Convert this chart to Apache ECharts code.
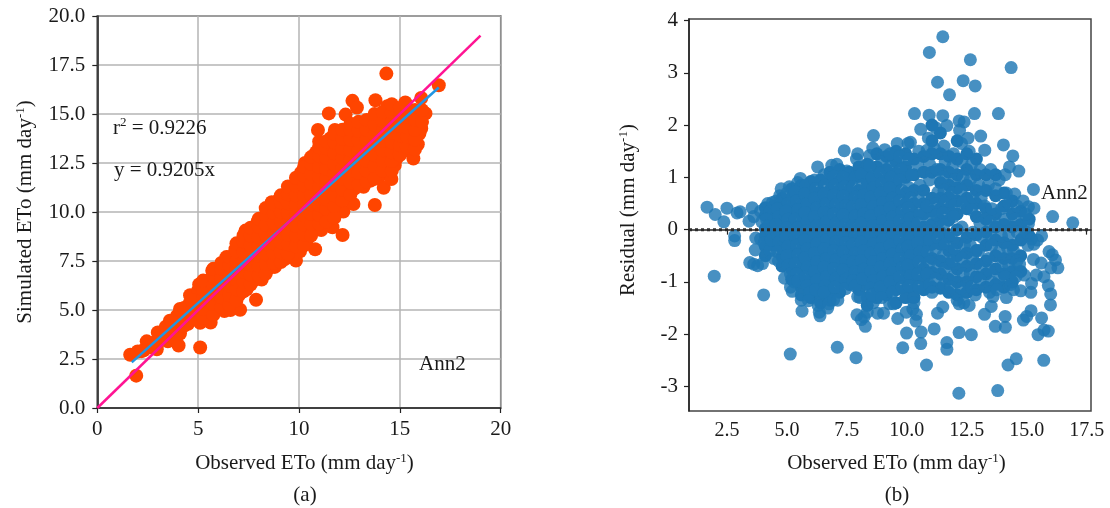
<!DOCTYPE html>
<html><head><meta charset="utf-8">
<style>html,body{margin:0;padding:0;background:#fff}#c{width:1110px;height:508px}</style>
<script src="https://cdn.jsdelivr.net/npm/echarts@6/dist/echarts.min.js"></script>
</head><body><div id="c"></div>
<script>
const ticksBX=[2.5,5,7.5,10,12.5,15,17.5];
const ticksBY=[-3,-2,-1,0,1,2,3,4];
const oneToOneX=[0,19], oneToOneY=[0,19];
const fitX=[1.71,16.93], fitY=[2.33,16.35];
const zeroX=[0.917,17.68], zeroY=[0,0];
const pointsA=[
[1.63,2.72],[1.93,1.65],[2.0,2.88],[2.3,2.95],[2.45,3.4],[2.6,3.1],[2.75,3.3],[2.95,3.0],[3.0,3.85],[3.2,3.5],[3.25,3.9],[3.5,3.4],[3.55,3.95],[3.6,4.45],[3.8,3.6],[3.85,4.2],[3.95,4.7],[4.03,3.19],[4.1,3.8],[4.1,5.05],[4.2,4.4],[4.4,4.85],[4.5,4.3],[4.55,5.3],[4.6,5.75],[4.8,4.55],[4.85,5.0],[4.9,5.5],[5.0,6.0],[5.1,3.09],[5.1,4.35],[5.15,4.8],[5.2,5.3],[5.05,6.3],[5.35,5.8],[5.4,6.4],[5.5,4.7],[5.62,4.36],[5.55,5.15],[5.6,5.6],[5.6,6.05],[5.65,6.6],[5.7,7.0],[5.9,5.0],[5.95,5.4],[5.95,5.9],[6.0,6.4],[6.05,6.85],[6.1,7.2],[6.3,4.95],[6.35,5.5],[6.3,6.0],[6.35,6.5],[6.4,7.0],[6.4,7.7],[6.6,5.0],[6.7,5.5],[6.7,6.0],[6.65,6.5],[6.7,7.1],[6.8,7.55],[6.85,8.1],[7.08,5.01],[7.05,5.8],[7.0,6.3],[7.1,6.8],[7.05,7.3],[7.1,7.8],[7.15,8.35],[7.35,9.05],[7.4,6.05],[7.45,6.55],[7.4,7.05],[7.45,7.55],[7.5,8.1],[7.5,8.6],[7.75,6.5],[7.87,5.52],[7.8,7.0],[7.85,7.5],[7.85,8.0],[7.8,8.55],[7.9,9.05],[7.95,9.5],[8.15,6.55],[8.1,7.1],[8.2,7.6],[8.15,8.1],[8.2,8.6],[8.15,9.1],[8.25,9.6],[8.55,7.15],[8.5,7.65],[8.55,8.15],[8.5,8.65],[8.55,9.2],[8.5,9.7],[8.55,10.1],[8.65,10.5],[8.8,7.2],[8.9,7.7],[8.9,8.25],[8.85,8.8],[8.95,9.3],[8.9,9.8],[8.95,10.3],[9.05,10.7],[9.3,7.6],[9.25,8.15],[9.3,8.7],[9.35,9.2],[9.3,9.7],[9.35,10.2],[9.3,10.7],[9.5,11.1],[9.6,8.0],[9.65,8.5],[9.7,9.05],[9.7,9.55],[9.65,10.05],[9.7,10.55],[9.75,11.0],[9.85,7.52],[9.9,11.45],[10.05,8.0],[10.05,8.6],[10.1,9.1],[10.05,9.6],[10.1,10.1],[10.05,10.6],[10.1,11.1],[10.05,11.6],[10.1,12.0],[10.3,12.5],[10.4,8.6],[10.45,9.15],[10.45,9.65],[10.4,10.15],[10.45,10.65],[10.45,11.2],[10.4,11.7],[10.5,12.2],[10.8,8.1],[10.8,9.5],[10.8,10.0],[10.85,10.5],[10.8,11.05],[10.8,11.55],[10.85,12.1],[10.75,12.65],[10.85,13.05],[10.94,14.18],[11.1,9.08],[11.2,9.8],[11.15,10.4],[11.2,10.9],[11.15,11.4],[11.2,11.95],[11.15,12.5],[11.2,13.0],[11.15,13.35],[11.48,15.03],[11.55,10.0],[11.55,10.6],[11.6,11.15],[11.55,11.7],[11.6,12.2],[11.55,12.75],[11.6,13.3],[11.55,13.75],[11.66,9.22],[11.78,14.18],[11.95,10.4],[11.95,10.9],[12.0,11.45],[11.95,12.0],[12.0,12.5],[11.95,13.0],[12.0,13.5],[12.0,14.0],[12.16,8.83],[12.2,10.02],[12.31,14.97],[12.35,10.75],[12.35,11.3],[12.4,11.85],[12.35,12.4],[12.4,12.95],[12.35,13.45],[12.4,14.0],[12.5,14.3],[12.65,15.67],[12.7,10.41],[12.75,11.2],[12.75,11.75],[12.8,12.3],[12.75,12.85],[12.8,13.4],[12.75,13.9],[12.8,14.4],[12.87,15.33],[13.2,11.29],[13.15,11.8],[13.15,12.35],[13.2,12.9],[13.15,13.45],[13.2,13.95],[13.15,14.5],[13.55,11.6],[13.55,12.1],[13.6,12.65],[13.55,13.2],[13.6,13.7],[13.55,14.2],[13.6,14.65],[13.76,10.36],[13.79,15.7],[13.95,11.75],[14.0,12.35],[13.95,12.9],[14.0,13.4],[13.95,13.95],[14.0,14.4],[13.95,14.9],[14.2,11.24],[14.33,17.06],[14.38,15.4],[14.35,12.2],[14.4,12.75],[14.35,13.3],[14.4,13.85],[14.35,14.4],[14.4,14.95],[14.58,11.68],[14.7,15.33],[14.75,12.4],[14.83,12.73],[14.8,13.2],[14.8,13.75],[14.85,14.3],[14.8,14.85],[15.15,13.1],[15.2,13.6],[15.15,14.15],[15.2,14.7],[15.15,15.1],[15.27,15.59],[15.5,13.4],[15.55,14.0],[15.5,14.55],[15.55,15.1],[15.67,12.73],[15.89,13.46],[15.85,14.4],[15.9,15.0],[15.97,14.0],[16.06,14.26],[16.06,15.82],[16.1,15.0],[16.27,15.03],[16.93,16.47]
];
const bandA=[
[2.2,[2.9]],[2.85,[3.35]],[3.4,[3.7,4.15]],[3.7,[3.9,4.4]],[4.3,[4.2,4.6,5.1]],[4.7,[4.5,5.0,5.5]],[5.25,[4.6,5.05,5.55,6.05,6.5]],[5.75,[4.75,5.3,5.8,6.3,6.75,7.1]],[6.15,[5.15,5.65,6.15,6.65,7.1,7.4]],[6.55,[5.25,5.75,6.25,6.75,7.3,7.7]],[6.9,[5.5,6.05,6.55,7.05,7.5,8.0,8.4]],[7.25,[5.95,6.45,6.95,7.45,7.95,8.5,8.8]],[7.6,[6.3,6.8,7.3,7.8,8.3,8.8,9.2]],[8,[6.75,7.25,7.75,8.25,8.75,9.25,9.65]],[8.35,[6.85,7.35,7.85,8.35,8.85,9.35,9.85,10.2]],[8.75,[7.4,7.9,8.4,8.9,9.45,9.95,10.4]],[9.1,[7.45,7.95,8.45,8.95,9.5,10,10.5,10.85]],[9.45,[7.85,8.35,8.85,9.45,9.95,10.45,10.9,11.3]],[9.85,[8.25,8.8,9.3,9.85,10.35,10.85,11.35,11.75]],[10.25,[8.3,8.85,9.35,9.85,10.35,10.85,11.35,11.85,12.3]],[10.6,[8.8,9.4,9.9,10.4,10.9,11.45,11.95,12.45,12.8]],[11,[9.4,9.85,10.35,10.85,11.3,11.8,12.3,12.85,13.3,13.6]],[11.35,[9.5,10.15,10.65,11.15,11.7,12.2,12.75,13.25,13.6]],[11.75,[9.7,10.3,10.85,11.4,11.95,12.45,13,13.55,14]],[12.15,[10.6,11.15,11.7,12.25,12.75,13.25,13.75,14.2]],[12.55,[10.9,11.5,12.1,12.65,13.15,13.7,14.2,14.5]],[12.95,[11.4,12,12.55,13.1,13.65,14.15,14.6]],[13.35,[11.55,12.1,12.6,13.15,13.65,14.2,14.7]],[13.75,[11.7,12.35,12.9,13.45,13.95,14.45,15]],[14.15,[12.1,12.6,13.15,13.65,14.15,14.65,15.1]],[14.6,[12.1,12.6,13.05,13.55,14.05,14.6,15.1,15.5]],[15,[12.9,13.4,13.9,14.4,14.9,15.3]],[15.35,[13.3,13.85,14.35,14.85,15.3]],[15.75,[13.2,13.7,14.2,14.7,15.2]],[16.1,[14.6,15.2]]
];
const pointsB=[
[1.67,.43],[2.01,.29],[2.5,.41],[2.37,.15],[2.92,.32],[3.05,.34],[2.82,-.12],[2.82,-.21],[1.97,-.89],[4.03,-1.25],[5.14,-2.38],[7.1,-2.25],[7.88,-2.45],[9.83,-2.26],[10.58,-2.18],[10.82,-2.59],[12.17,-3.13],[13.79,-3.08],[14.22,-2.59],[14.56,-2.47],[15.71,-2.5],[11.67,-2.16],[11.67,-2.29],[9.99,-1.98],[10.6,-1.96],[11.14,-1.9],[12.18,-1.97],[12.69,-2.01],[13.69,-1.85],[14.11,-1.87],[14.1,-1.66],[13.24,-1.62],[15.47,-2.01],[15.9,-1.94],[15.72,-1.92],[15.62,-1.69],[15.99,-1.44],[14.86,-1.73],[15,-1.66],[15.18,-1.55],[16,-1.23],[15.9,-1.07],[15.17,-1.2],[15.2,-1.03],[14.9,-.87],[15.4,-.87],[15.72,-.9],[16.3,-.73],[16.0,-.73],[16.2,-.58],[15.93,-.42],[16.07,-.48],[15.28,-.57],[15.6,-.64],[15.62,-.12],[16.92,.13],[16.08,.25],[15.28,.77],[15.3,.41],[15.07,.44],[15.07,.11],
[11.5,3.69],[10.94,3.39],[12.65,3.25],[14.35,3.1],[11.28,2.82],[12.35,2.85],[12.85,2.75],[11.78,2.58],[10.32,2.22],[10.93,2.19],[11.5,2.18],[12.82,2.22],[13.82,2.22],[12.18,2.08],[12.39,2.06],[11.67,1.99],[10.58,1.92],[13.08,1.79],[8.61,1.8],[14.03,1.62],[13.25,1.52],[14.42,1.41],[7.39,1.51],[6.28,1.2],[14.67,1.12],[14.28,1.2],[5.56,.98],[4.76,.78],
[3.55,.42],[3.62,.25],[3.42,.16],[3.7,-.16],[3.68,-.39],[3.45,-.63],[3.62,-.66],[3.78,-.69],[3.98,-.65],[3.9,.35],[3.95,.15],[3.9,-.18],[4.05,-.25],
[4.2,.5],[4.3,.35],[4.15,.2],[4.25,.08],[4.35,-.05],[4.3,-.4],[4.35,-.2],[4.45,-.55],[4.4,.52],
[4.55,.55],[4.6,.4],[4.65,.25],[4.55,.1],[4.6,-.1],[4.65,-.25],[4.6,-.42],[4.65,-.6],[4.7,.65],
[5,.7],[5.05,.5],[4.95,.35],[5.05,.2],[5,.03],[4.95,-.15],[5.05,-.32],[5,-.5],[5.05,-.68],[4.9,-.93],[5.15,-.85],[5.1,.82],[5.15,-1.1],
[5.45,.9],[5.35,.72],[5.4,.55],[5.45,.38],[5.35,.2],[5.45,.03],[5.35,-.14],[5.4,-.3],[5.45,-.48],[5.35,-.65],[5.4,-.85],[5.3,-1.0],[5.22,-1.18],[5.45,-.98],[5.6,-1.35],[5.63,-1.56],
[5.8,.85],[5.75,.68],[5.85,.5],[5.75,.33],[5.85,.16],[5.8,-.02],[5.75,-.2],[5.85,-.37],[5.75,-.54],[5.85,-.72],[5.78,-.9],[5.85,-1.07],[5.95,-1.2],[5.9,-1.36],
[6.15,.95],[6.2,.78],[6.15,.6],[6.25,.42],[6.15,.25],[6.25,.08],[6.15,-.1],[6.25,-.27],[6.15,-.45],[6.25,-.62],[6.15,-.8],[6.25,-.97],[6.2,-1.15],[6.3,-1.45],[6.35,-1.58],[6.38,-1.65],
[6.55,1.05],[6.6,.85],[6.55,.68],[6.65,.5],[6.55,.33],[6.65,.15],[6.55,-.02],[6.65,-.2],[6.55,-.37],[6.65,-.55],[6.55,-.72],[6.65,-.9],[6.6,-1.07],[6.55,-1.2],[6.7,-1.5],[6.75,-1.42],
[6.87,1.23],[7.08,1.25],[6.95,1.02],[7.0,.85],[6.95,.66],[7.05,.48],[6.95,.3],[7.05,.12],[6.95,-.05],[7.05,-.23],[6.95,-.4],[7.05,-.58],[6.95,-.75],[7.05,-.93],[7.0,-1.1],[6.95,-1.34],[7.12,-1.35],
[7.5,1.12],[7.35,1.0],[7.4,.82],[7.35,.64],[7.45,.46],[7.35,.28],[7.45,.1],[7.35,-.07],[7.45,-.25],[7.35,-.42],[7.45,-.6],[7.35,-.77],[7.45,-.95],[7.45,-1.13],
[7.9,1.35],[7.95,1.45],[7.85,1.0],[7.75,.82],[7.85,.62],[7.75,.44],[7.85,.26],[7.75,.08],[7.85,-.1],[7.75,-.28],[7.85,-.45],[7.75,-.62],[7.85,-.8],[7.75,-.98],[7.85,-1.08],[7.95,-1.28],[8.05,-1.3],[7.92,-1.63],[8.1,-1.72],
[8.1,1.06],[8.15,.85],[8.2,.66],[8.1,.48],[8.2,.3],[8.1,.12],[8.2,-.06],[8.1,-.24],[8.2,-.41],[8.1,-.59],[8.2,-.76],[8.15,-.94],[8.27,-1.85],[8.22,-1.67],[8.35,-1.58],
[8.45,1.42],[8.58,1.56],[8.45,1.22],[8.55,1.0],[8.6,.8],[8.5,.62],[8.6,.44],[8.5,.26],[8.6,.08],[8.5,-.1],[8.6,-.28],[8.5,-.45],[8.6,-.62],[8.5,-.8],[8.6,-.98],[8.5,-1.12],[8.6,-1.4],[8.55,-1.25],
[8.95,1.3],[8.9,1.08],[8.95,.88],[8.9,.7],[9,.52],[8.9,.34],[9,.16],[8.9,-.02],[9,-.2],[8.9,-.37],[9,-.55],[8.9,-.72],[9,-.9],[8.9,-1.1],[8.78,-1.6],[8.95,-1.3],[9.03,-1.6],
[9.08,1.53],[9.3,1.45],[9.3,1.2],[9.35,1.0],[9.3,.8],[9.4,.6],[9.3,.42],[9.4,.24],[9.3,.06],[9.4,-.12],[9.3,-.3],[9.4,-.47],[9.3,-.65],[9.4,-.82],[9.3,-1.0],[9.4,-1.2],[9.28,-1.42],[9.45,-1.42],[9.62,-1.7],
[9.6,1.65],[9.7,1.4],[9.75,1.15],[9.7,.95],[9.8,.75],[9.7,.55],[9.8,.35],[9.7,.17],[9.8,-.01],[9.7,-.2],[9.8,-.38],[9.7,-.55],[9.8,-.73],[9.7,-.9],[9.8,-1.1],[9.98,-1.58],
[10.05,1.65],[10.15,1.67],[10.1,1.35],[10.2,1.05],[10.1,.8],[10.15,.6],[10.05,.42],[10.15,.22],[10.05,.04],[10.15,-.15],[10.05,-.32],[10.15,-.5],[10.05,-.68],[10.15,-.88],[10.1,-1.08],[10.3,-1.4],[10.25,-1.52],[10.4,-1.62],[10.38,-1.75],
[10.5,1.5],[10.45,1.25],[10.55,.85],[10.5,.55],[10.55,.3],[10.45,.12],[10.55,-.07],[10.45,-.25],[10.55,-.43],[10.5,-.62],[10.45,-.85],[10.5,-1.1],
[10.9,1.75],[10.85,1.52],[10.95,1.25],[10.95,.95],[10.85,.45],[10.95,.2],[10.85,-.02],[10.95,-.2],[10.85,-.42],[10.95,-.62],[10.85,-.85],[10.95,-1.05],[11.05,-1.2],
[11.2,1.95],[11.15,1.55],[11.25,1.15],[11.3,.72],[11.2,.5],[11.25,.28],[11.3,-.15],[11.2,-.38],[11.3,-.7],[11.2,-.95],[11.28,-1.6],[11.5,-1.48],
[11.55,1.6],[11.6,1.3],[11.5,1.0],[11.55,.75],[11.6,.55],[11.5,.32],[11.55,.1],[11.6,-.28],[11.5,-.5],[11.58,-.75],[11.55,-1.05],
[11.95,1.45],[11.9,1.2],[12,.95],[11.9,.7],[12,.48],[11.95,.25],[11.85,-.1],[12,-.38],[11.9,-.6],[11.95,-.88],[11.85,-1.1],[12.1,-1.35],[12.18,-1.42],
[12.2,1.9],[12.28,1.65],[12.3,1.3],[12.35,1.0],[12.25,.75],[12.35,.52],[12.3,.05],[12.4,-.3],[12.3,-.55],[12.35,-.85],[12.28,-1.12],[12.38,-1.4],
[12.55,1.75],[12.6,1.5],[12.7,1.25],[12.65,.95],[12.75,.62],[12.7,.38],[12.75,-.05],[12.65,-.3],[12.75,-.55],[12.65,-.85],[12.7,-1.1],[12.85,-1.25],[12.6,-1.45],
[13.05,1.15],[13,.85],[13.1,.6],[13.25,.45],[13.05,.12],[13.15,-.15],[13,-.4],[13.1,-.7],[13.05,-.95],
[13.5,1.15],[13.4,.85],[13.55,.4],[13.45,.15],[13.55,-.15],[13.4,-.55],[13.55,-.3],[13.45,-.8],[13.55,-1.0],[13.45,-1.2],[13.6,-1.28],[13.52,-1.47],
[13.7,.78],[13.85,.95],[13.95,.4],[13.8,.1],[13.95,-.12],[13.85,-.42],[13.95,-.7],[13.85,-.95],[13.75,-1.15],[14.15,-1.3],
[14.1,1.05],[14.15,.7],[14.25,.5],[14.1,.2],[14.25,-.1],[14.2,-.35],[14.25,-.7],[14.1,-.9],[14.35,-1.05],[14.45,-1.15],
[14.5,.68],[14.6,.45],[14.5,.2],[14.6,-.05],[14.45,-.4],[14.6,-.6],[14.7,-.66],[14.55,-.9],[14.75,-1.17],
[14.85,.55],[14.95,.3],[14.85,-.15],[15,-.05],[15.2,-.18],[15.3,-.28],[15.45,-.2],[15.05,-.3]
];
const bandB=[
[4.1,[.42,.27,.02,-.12,-.32,-.5]],[4.45,[.45,.28,.15,0,-.15,-.3]],[4.8,[.6,.44,.28,.12,-.04,-.2,-.36,-.52,-.7]],[5.2,[.78,.62,.44,.28,.11,-.06,-.22,-.4,-.58,-.76,-.95]],[5.6,[.85,.66,.47,.3,.12,-.06,-.23,-.4,-.57,-.75,-.95,-1.1,-1.25]],[6,[.92,.75,.58,.4,.23,.06,-.11,-.28,-.46,-.63,-.8,-.98,-1.15,-1.3]],[6.4,[.95,.72,.55,.36,.18,0,-.17,-.35,-.52,-.7,-.87,-1.05,-1.25,-1.4]],[6.8,[1.1,.93,.75,.58,.4,.22,.05,-.13,-.3,-.48,-.65,-.83,-1,-1.18,-1.35]],[7.2,[1.15,.95,.76,.58,.4,.22,.04,-.14,-.32,-.5,-.67,-.85,-1.02,-1.2]],[7.6,[1.1,.92,.73,.55,.37,.19,.01,-.17,-.35,-.53,-.7,-.88,-1.05]],[8,[1.2,1.02,.75,.57,.39,.21,.03,-.15,-.33,-.5,-.68,-.85,-1.02,-1.15]],[8.35,[1.25,1.05,.9,.72,.54,.36,.18,0,-.18,-.35,-.53,-.7,-.88,-1.05,-1.3,-1.45]],[8.75,[1.45,1.2,1,.8,.62,.44,.26,.08,-.1,-.27,-.45,-.62,-.8,-.97,-1.15,-1.3]],[9.15,[1.4,1.15,.95,.75,.55,.37,.19,.01,-.17,-.35,-.52,-.7,-.87,-1.05,-1.25]],[9.55,[1.5,1.3,1.08,.88,.68,.48,.3,.12,-.06,-.24,-.42,-.6,-.77,-.95,-1.15,-1.4]],[9.95,[1.45,1.2,1,.7,.5,.3,.12,-.06,-.24,-.42,-.6,-.78,-.95,-1.15,-1.3]],[10.3,[1.35,1.05,.75,.5,.3,.12,-.06,-.22,-.4,-.58,-.77,-.95,-1.15,-1.3]],[10.7,[1.4,1.1,.75,.5,.3,.05,-.15,-.35,-.52,-.75,-.95,-1.15]],[11.05,[2,1.7,1.45,1.1,.6,.35,.1,-.08,-.28,-.55,-.82,-1.1]],[11.4,[1.85,1.45,1.15,.9,.6,.4,.18,-.05,-.28,-.6,-.85,-1.12]],[11.75,[1.4,1.1,.85,.62,.4,.18,-.15,-.4,-.65,-.95,-1.2]],[12.1,[1.7,1.35,1.05,.8,.55,.3,0,-.25,-.5,-.75,-1,-1.25]],[12.5,[1.45,1.15,.85,.6,.4,-.15,-.45,-.7,-1,-1.2]],[12.9,[1.35,1.05,.75,.5,.25,-.1,-.4,-.65,-.9,-1.15]],[13.3,[1.05,.75,.4,.2,-.05,-.3,-.6,-.85,-1.1]],[13.7,[1.05,.65,.3,.05,-.2,-.5,-.75,-1.05]],[14.05,[.7,.45,.1,-.25,-.55,-.85,-1.1]],[14.4,[.55,.3,.05,-.3,-.55,-.8,-1]],[14.75,[.35,.1,-.2,-.5,-.8]],[15.1,[.2,-.12]]
];

const serif='"Liberation Serif","Times New Roman",serif';
const labelStyle={fontFamily:serif,fontSize:21,color:'#1a1a1a'};
const labelStyleB={fontFamily:serif,fontSize:20,color:'#1a1a1a'};
const supRich={sup:{fontFamily:serif,fontSize:13,color:'#1a1a1a',verticalAlign:'bottom',padding:[0,0,10,0]}};
const nameStyle=(pad)=>({fontFamily:serif,fontSize:21,color:'#1a1a1a',rich:supRich,padding:pad});
const axisLine={show:true,lineStyle:{color:'#222',width:1.5}};
const tick=(vals)=>({show:true,length:5,customValues:vals,lineStyle:{color:'#222',width:1.2}});
const plainTick={show:true,length:5,lineStyle:{color:'#222',width:1.2}};
const fmt1=v=>Number(v).toFixed(1);
const grey={show:true,lineStyle:{color:'#b5b5b5',width:1.5}};
function note(x,y,t,align){return {type:'text',x:x,y:y,z:50,style:{text:t,fontFamily:serif,fontSize:21,fill:'#1a1a1a',align:align||'left',verticalAlign:'middle',rich:{sup:{fontFamily:serif,fontSize:13,fill:'#1a1a1a',verticalAlign:'bottom',padding:[0,0,10,0]}}}};}
const zip=(a,b)=>a.map((v,i)=>[v,b[i]]);
const expand=cols=>cols.flatMap(c=>c[1].map(y=>[c[0],y]));

const chart=echarts.init(document.getElementById('c'),null,{renderer:'canvas'});
chart.setOption({
 animation:false,backgroundColor:'#fff',
 grid:[
  {left:97.3,right:609.3,top:16,bottom:100,show:true,borderColor:'#222',borderWidth:1.5,backgroundColor:'transparent'},
  {left:689,right:19,top:19,bottom:97,show:true,borderColor:'#444',borderWidth:1.5,backgroundColor:'transparent'}
 ],
 xAxis:[
  {gridIndex:0,type:'value',min:0,max:20,interval:5,axisLine:axisLine,axisTick:plainTick,splitLine:grey,
   axisLabel:{...labelStyle,margin:11},name:'Observed ETo (mm day{sup|-1})',nameLocation:'middle',nameGap:44,nameTextStyle:nameStyle([0,0,0,11])},
  {gridIndex:1,type:'value',min:0.917,max:17.68,axisLine:axisLine,axisTick:tick(ticksBX),splitLine:{show:false},
   axisLabel:{...labelStyleB,margin:10,customValues:ticksBX,formatter:fmt1},name:'Observed ETo (mm day{sup|-1})',nameLocation:'middle',nameGap:41,nameTextStyle:nameStyle([0,0,0,13])}
 ],
 yAxis:[
  {gridIndex:0,type:'value',min:0,max:20,interval:2.5,axisLine:axisLine,axisTick:plainTick,splitLine:grey,
   axisLabel:{...labelStyle,margin:12,formatter:fmt1},name:'Simulated ETo (mm day{sup|-1})',nameLocation:'middle',nameGap:60,nameTextStyle:nameStyle([0,0,0,0])},
  {gridIndex:1,type:'value',min:-3.47,max:4.03,axisLine:axisLine,axisTick:tick(ticksBY),splitLine:{show:false},
   axisLabel:{...labelStyle,margin:11,customValues:ticksBY},name:'Residual (mm day{sup|-1})',nameLocation:'middle',nameGap:49,nameTextStyle:nameStyle([0,0,0,10])}
 ],
 series:[
  {type:'scatter',xAxisIndex:0,yAxisIndex:0,symbolSize:14,data:pointsA.concat(expand(bandA)),itemStyle:{color:'#ff4500',opacity:1},z:2},
  {type:'line',xAxisIndex:0,yAxisIndex:0,data:zip(fitX,fitY),showSymbol:false,lineStyle:{color:'#2196e3',width:2.5},z:3},
  {type:'line',xAxisIndex:0,yAxisIndex:0,data:zip(oneToOneX,oneToOneY),showSymbol:false,lineStyle:{color:'#ff1493',width:2.5},z:4},
  {type:'scatter',xAxisIndex:1,yAxisIndex:1,symbolSize:13,data:expand(bandB),itemStyle:{color:'#1f77b4',opacity:1},z:1},
  {type:'scatter',xAxisIndex:1,yAxisIndex:1,symbolSize:13,data:pointsB,itemStyle:{color:'#1f77b4',opacity:.82},z:2},
  {type:'line',xAxisIndex:1,yAxisIndex:1,data:zip(zeroX,zeroY),showSymbol:false,lineStyle:{color:'#2b2b2b',width:3,type:[3,3]},z:4}
 ],
 graphic:[
  note(113,128,'r{sup|2} = 0.9226'),
  note(114,170,'y = 0.9205x'),
  note(419,364,'Ann2'),
  note(305,495,'(a)','center'),
  note(1041,193,'Ann2'),
  note(897,495,'(b)','center')
 ]
});
</script></body></html>
